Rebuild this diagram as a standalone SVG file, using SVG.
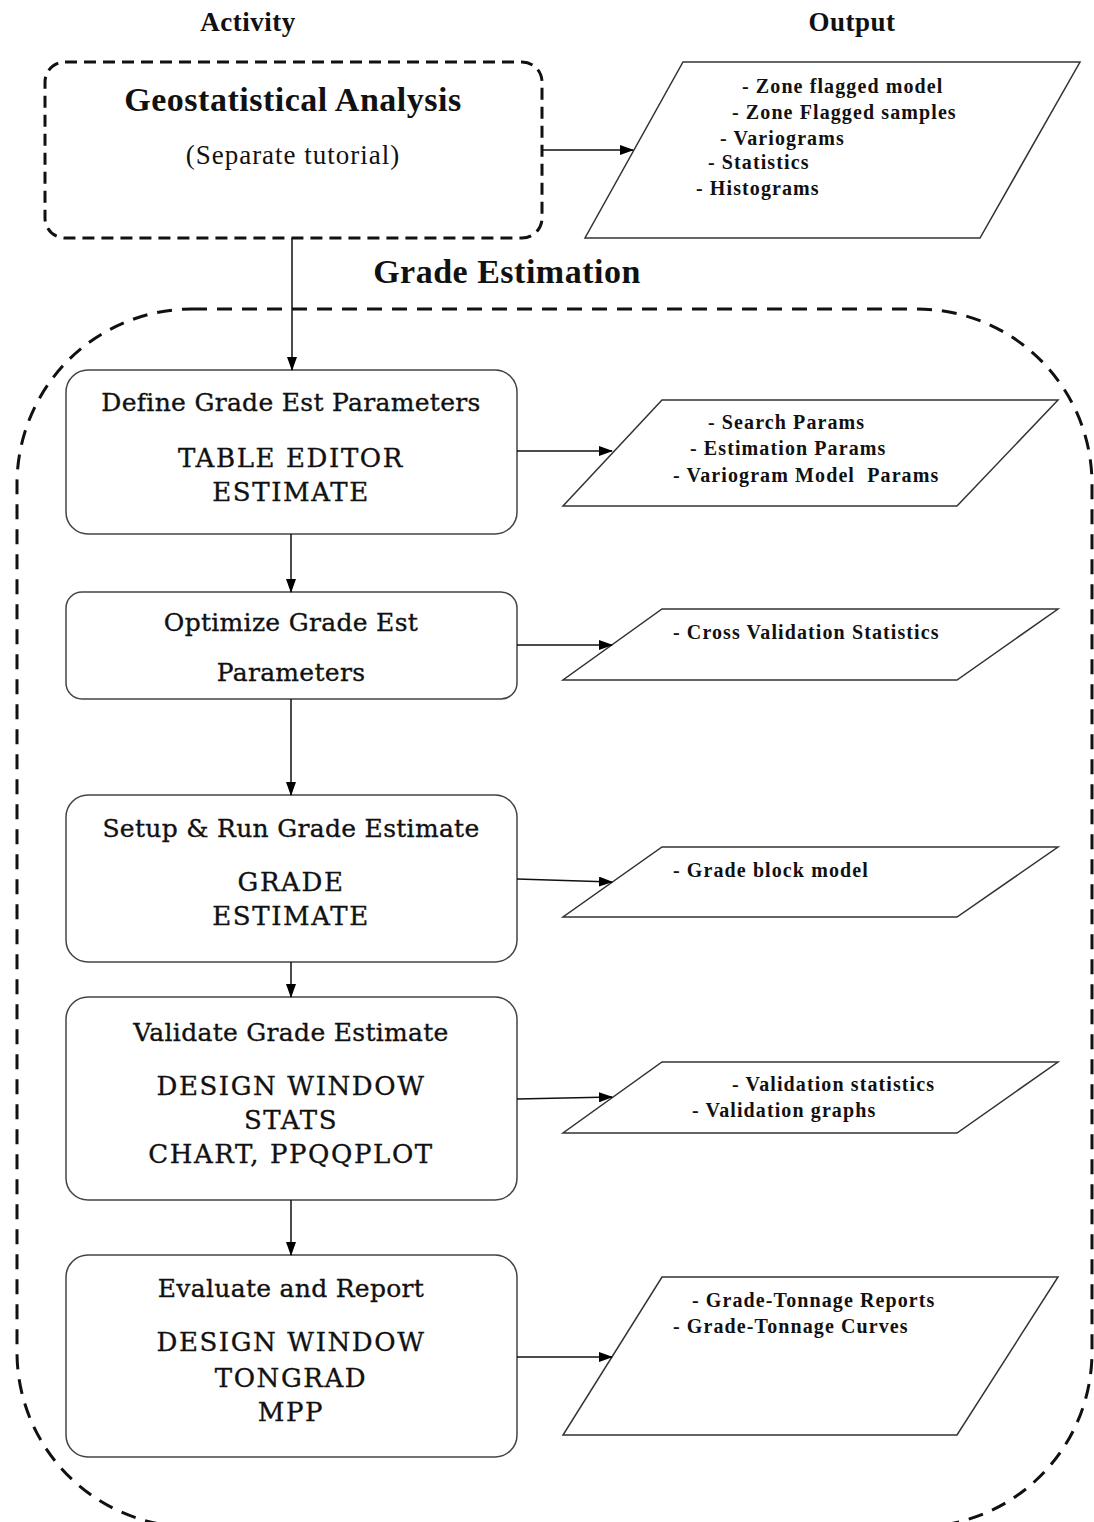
<svg xmlns="http://www.w3.org/2000/svg" width="1094" height="1522" viewBox="0 0 1094 1522">
<defs>
<marker id="ah" markerWidth="14" markerHeight="10" refX="13" refY="5" orient="auto" markerUnits="userSpaceOnUse">
<path d="M0,0 L14,5 L0,10 Z" fill="#000"/>
</marker>
<style>
.hdr{font-family:"Liberation Serif",serif;font-weight:bold;font-size:27px;fill:#111;text-anchor:middle;letter-spacing:0.5px}
.big{font-family:"Liberation Serif",serif;font-weight:bold;font-size:34px;fill:#111;text-anchor:middle;letter-spacing:0.5px}
.sub{font-family:"Liberation Serif",serif;font-size:27px;fill:#111;text-anchor:middle;letter-spacing:1px}
.box{fill:#fff;stroke:#444;stroke-width:1.5}
.ttl{font-family:"DejaVu Serif",serif;font-size:25px;fill:#111;stroke:#111;stroke-width:0.35;text-anchor:middle;letter-spacing:0.3px}
.cmd{font-family:"DejaVu Serif",serif;font-size:26px;fill:#111;stroke:#111;stroke-width:0.35;text-anchor:middle;letter-spacing:1.6px}
.out{fill:#fff;stroke:#333;stroke-width:1.5}
.ot{font-family:"Liberation Serif",serif;font-weight:bold;font-size:20px;fill:#111;letter-spacing:1.1px;white-space:pre}
.dash{fill:none;stroke:#111;stroke-width:3;stroke-dasharray:15 10}
.con{fill:none;stroke:#111;stroke-width:1.5}
</style>
</defs>
<rect width="1094" height="1522" fill="#fff"/>

<text class="hdr" x="248" y="31">Activity</text>
<text class="hdr" x="852" y="31">Output</text>

<g id="grade-estimation">
<rect class="dash" x="17" y="309" width="1075" height="1218" rx="175" ry="175"/>
<text class="big" x="507" y="283">Grade Estimation</text>
</g>

<g id="geo">
<rect x="45" y="62" width="497" height="176" rx="20" ry="20" fill="#fff" stroke="#111" stroke-width="3" stroke-dasharray="12 7"/>
<text class="big" x="293" y="111">Geostatistical Analysis</text>
<text class="sub" x="293" y="164">(Separate tutorial)</text>
</g>

<g id="out-geo">
<polygon class="out" points="683,62 1080,62 980,238 585,238"/>
<text class="ot" x="742" y="93">- Zone flagged model</text>
<text class="ot" x="732" y="119">- Zone Flagged samples</text>
<text class="ot" x="720" y="145">- Variograms</text>
<text class="ot" x="708" y="169">- Statistics</text>
<text class="ot" x="696" y="195">- Histograms</text>
</g>

<g id="define">
<rect class="box" x="66" y="370" width="451" height="164" rx="22" ry="22"/>
<text class="ttl" x="291" y="411">Define Grade Est Parameters</text>
<text class="cmd" x="291" y="467">TABLE EDITOR</text>
<text class="cmd" x="291" y="501">ESTIMATE</text>
</g>

<g id="optimize">
<rect class="box" x="66" y="592" width="451" height="107" rx="16" ry="16"/>
<text class="ttl" x="291" y="631">Optimize Grade Est</text>
<text class="ttl" x="291" y="681">Parameters</text>
</g>

<g id="setup">
<rect class="box" x="66" y="795" width="451" height="167" rx="22" ry="22"/>
<text class="ttl" x="291" y="837">Setup &amp; Run Grade Estimate</text>
<text class="cmd" x="291" y="891">GRADE</text>
<text class="cmd" x="291" y="925">ESTIMATE</text>
</g>

<g id="validate">
<rect class="box" x="66" y="997" width="451" height="203" rx="22" ry="22"/>
<text class="ttl" x="291" y="1041">Validate Grade Estimate</text>
<text class="cmd" x="291" y="1095">DESIGN WINDOW</text>
<text class="cmd" x="291" y="1129">STATS</text>
<text class="cmd" x="291" y="1163">CHART, PPQQPLOT</text>
</g>

<g id="evaluate">
<rect class="box" x="66" y="1255" width="451" height="202" rx="22" ry="22"/>
<text class="ttl" x="291" y="1297">Evaluate and Report</text>
<text class="cmd" x="291" y="1351">DESIGN WINDOW</text>
<text class="cmd" x="291" y="1387">TONGRAD</text>
<text class="cmd" x="291" y="1421">MPP</text>
</g>

<g id="out-define">
<polygon class="out" points="662,400 1058,400 957,506 563,506"/>
<text class="ot" x="708" y="429">- Search Params</text>
<text class="ot" x="690" y="455">- Estimation Params</text>
<text class="ot" x="673" y="482">- Variogram Model  Params</text>
</g>

<g id="out-optimize">
<polygon class="out" points="662,609 1058,609 957,680 563,680"/>
<text class="ot" x="673" y="639">- Cross Validation Statistics</text>
</g>

<g id="out-setup">
<polygon class="out" points="662,847 1058,847 957,917 563,917"/>
<text class="ot" x="673" y="877">- Grade block model</text>
</g>

<g id="out-validate">
<polygon class="out" points="662,1062 1058,1062 957,1133 563,1133"/>
<text class="ot" x="732" y="1091">- Validation statistics</text>
<text class="ot" x="692" y="1117">- Validation graphs</text>
</g>

<g id="out-evaluate">
<polygon class="out" points="662,1277 1058,1277 957,1435 563,1435"/>
<text class="ot" x="692" y="1307">- Grade-Tonnage Reports</text>
<text class="ot" x="673" y="1333">- Grade-Tonnage Curves</text>
</g>

<g id="connectors">
<line class="con" x1="292" y1="238" x2="292" y2="370" marker-end="url(#ah)"/>
<line class="con" x1="542" y1="150" x2="633" y2="150" marker-end="url(#ah)" stroke-width="2"/>
<line class="con" x1="291" y1="534" x2="291" y2="592" marker-end="url(#ah)"/>
<line class="con" x1="291" y1="699" x2="291" y2="795" marker-end="url(#ah)"/>
<line class="con" x1="291" y1="962" x2="291" y2="997" marker-end="url(#ah)"/>
<line class="con" x1="291" y1="1200" x2="291" y2="1255" marker-end="url(#ah)"/>
<line class="con" x1="517" y1="451" x2="612" y2="451" marker-end="url(#ah)"/>
<line class="con" x1="517" y1="645" x2="612" y2="645" marker-end="url(#ah)"/>
<line class="con" x1="517" y1="879" x2="612" y2="882" marker-end="url(#ah)"/>
<line class="con" x1="517" y1="1099" x2="612" y2="1097" marker-end="url(#ah)"/>
<line class="con" x1="517" y1="1357" x2="612" y2="1357" marker-end="url(#ah)"/>
</g>
</svg>
